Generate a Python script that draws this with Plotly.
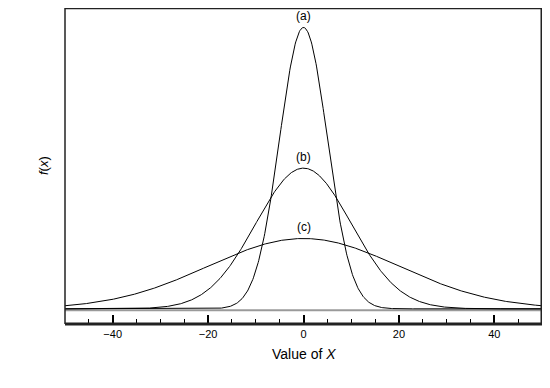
import numpy as np
import plotly.graph_objects as go

# Distribution parameters (normal curves)
labels = ["(a)", "(b)", "(c)"]
means = [0, 0, 0]
sds = [5, 10, 20]
x_ticks = [-40, -20, 0, 20, 40]
baseline_level = -0.0004  # gray reference line just under f(x)=0

x = np.linspace(-50, 50, 801)

fig = go.Figure()
# gray baseline
fig.add_trace(go.Scatter(x=[-50, 50], y=[baseline_level, baseline_level], mode="lines",
                         line=dict(color="#9a9a9a", width=2), hoverinfo="skip", showlegend=False))
for lab, m, s in zip(labels, means, sds):
    y = np.exp(-0.5 * ((x - m) / s) ** 2) / (s * np.sqrt(2 * np.pi))
    fig.add_trace(go.Scatter(x=x, y=y, mode="lines", line=dict(color="black", width=1),
                             showlegend=False))
    fig.add_annotation(x=m, y=y.max(), text=lab, showarrow=False, yanchor="bottom", yshift=2,
                       font=dict(size=12, color="black"))

# page has an 8px body margin, so the figure is offset by 8px
fig.update_layout(
    width=542, height=380,
    margin=dict(l=57, r=8, t=0, b=64),
    paper_bgcolor="white", plot_bgcolor="white",
    font=dict(family="Liberation Sans, Arial, sans-serif", color="black"),
    xaxis=dict(range=[-50, 50], tickvals=x_ticks, ticks="inside", ticklen=9, tickwidth=1.5,
               tickcolor="black", showgrid=False, zeroline=False, showline=False,
               ticklabelstandoff=2,
               tickfont=dict(size=11), minor=dict(dtick=5, ticks="inside", ticklen=5,
                                                  tickwidth=1, tickcolor="black", showgrid=False)),
    yaxis=dict(range=[-0.0043, 0.0853], showticklabels=False, ticks="", showgrid=False,
               zeroline=False, showline=False),
)
# frame
fig.add_shape(type="line", xref="paper", yref="paper", x0=0, x1=0, y0=0, y1=1,
              line=dict(color="#222", width=1.5))
fig.add_shape(type="line", xref="paper", yref="paper", x0=0, x1=1, y0=1, y1=1,
              line=dict(color="#222", width=2.5))
fig.add_shape(type="line", xref="paper", yref="paper", x0=1, x1=1, y0=0, y1=1,
              line=dict(color="#222", width=3))
fig.add_shape(type="line", xref="paper", yref="paper", x0=0, x1=1, y0=0, y1=0,
              line=dict(color="#222", width=3))
# axis titles
fig.add_annotation(xref="x", yref="paper", x=0, y=0, yshift=-30, yanchor="middle",
                   text="Value of <i>X</i>", showarrow=False, font=dict(size=14))
fig.add_annotation(xref="paper", yref="paper", x=0, y=0.5, xshift=-22, xanchor="center",
                   text="<i>f</i>(<i>x</i>)", textangle=-90, showarrow=False, font=dict(size=13))

fig.write_html("out.html")
